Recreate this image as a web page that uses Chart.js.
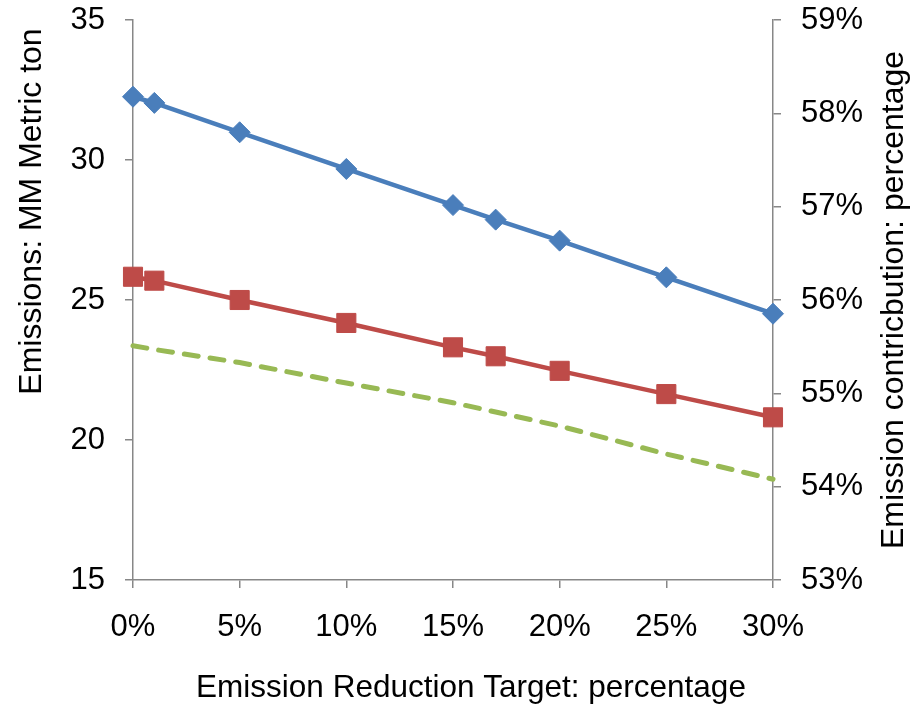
<!DOCTYPE html>
<html>
<head>
<meta charset="utf-8">
<script src="https://cdn.jsdelivr.net/npm/chart.js@4.4.1/dist/chart.umd.min.js"></script>
<style>
  html, body { margin: 0; padding: 0; background: #ffffff; }
  canvas { display: block; }
</style>
</head>
<body>
<canvas id="chart" width="914" height="717"></canvas>
<script>
// Emission reduction target (%) for each scenario run
const reductionTargets = [0, 1, 5, 10, 15, 17, 20, 25, 30];

// Emissions, MM metric ton (left axis)
const totalEmissions  = [32.26, 32.04, 30.99, 29.68, 28.39, 27.87, 27.12, 25.81, 24.51];
const sectorEmissions = [25.83, 25.69, 25.00, 24.18, 23.31, 22.99, 22.47, 21.64, 20.81];

// Emission contribution, % (right axis)
const contributionShare = [55.51, 55.47, 55.33, 55.11, 54.90, 54.80, 54.65, 54.35, 54.08];

// Axis ranges and tick steps: [min, max, step]
const xRange = [0, 30, 5];
const leftRange = [15, 35, 5];
const rightRange = [53, 59, 1];

const xTitle = 'Emission Reduction Target: percentage';
const leftTitle = 'Emissions: MM Metric ton';
const rightTitle = 'Emission contricbution: percentage';

const FONT_FAMILY = '"Liberation Sans", Arial, Helvetica, sans-serif';
const AXIS_GREY = '#878787';

const toPoints = (ys) => reductionTargets.map((x, i) => ({ x: x, y: ys[i] }));
const pct = (v) => v + '%';

// Axis titles: the two value-axis titles both read bottom to top
const axisTitles = {
  id: 'axisTitles',
  afterDraw(chart) {
    const { ctx, chartArea } = chart;
    const h = chartArea.bottom - chartArea.top;
    const w = chartArea.right - chartArea.left;
    const draw = (text, x, y, size, angle) => {
      ctx.save();
      ctx.translate(x, y);
      ctx.rotate(angle);
      ctx.font = size + 'px ' + FONT_FAMILY;
      ctx.fillStyle = '#000000';
      ctx.textAlign = 'center';
      ctx.textBaseline = 'middle';
      ctx.fillText(text, 0, 0);
      ctx.restore();
    };
    draw(leftTitle, chart.scales.y.left + 32, chartArea.top + h * 0.342, 32, -Math.PI / 2);
    draw(rightTitle, chart.scales.y1.right - 20, chartArea.top + h * 0.5, 32, -Math.PI / 2);
    draw(xTitle, chartArea.left + w * 0.5 + 18, chart.scales.x.bottom - 29, 31.5, 0);
  }
};

const tickFont = { family: FONT_FAMILY, size: 31 };
const axisGrid = { display: true, drawOnChartArea: false, drawTicks: true, tickLength: 8, color: AXIS_GREY, lineWidth: 1.5 };
const axisBorder = { display: true, color: AXIS_GREY, width: 1.5 };

// Fixed axis box sizes so the plot area keeps its place
const fitVertical = (width) => (scale) => {
  scale.width = width;
  scale.paddingTop = 0;
  scale.paddingBottom = 0;
};

new Chart(document.getElementById('chart'), {
  type: 'line',
  data: {
    datasets: [
      {
        label: 'Total emissions',
        data: toPoints(totalEmissions),
        yAxisID: 'y',
        borderColor: '#4A7EBB',
        backgroundColor: '#4A7EBB',
        borderWidth: 4.5,
        pointStyle: 'rectRot',
        pointRadius: 10.5,
        pointBorderWidth: 1,
        tension: 0,
        clip: false
      },
      {
        label: 'Sector emissions',
        data: toPoints(sectorEmissions),
        yAxisID: 'y',
        borderColor: '#BE4B48',
        backgroundColor: '#BE4B48',
        borderWidth: 4.5,
        pointStyle: 'rect',
        pointRadius: 13.5,
        pointBorderWidth: 1,
        tension: 0,
        clip: false
      },
      {
        label: 'Emission contribution',
        data: toPoints(contributionShare),
        yAxisID: 'y1',
        borderColor: '#98B954',
        backgroundColor: '#98B954',
        borderWidth: 5,
        borderDash: [14, 12],
        borderCapStyle: 'round',
        pointRadius: 0,
        tension: 0,
        clip: false
      }
    ]
  },
  options: {
    responsive: false,
    animation: false,
    events: [],
    layout: { padding: { top: 20, left: 0, right: 0, bottom: 0 } },
    plugins: {
      legend: { display: false },
      tooltip: { enabled: false },
      title: { display: false }
    },
    scales: {
      x: {
        type: 'linear',
        position: 'bottom',
        min: xRange[0],
        max: xRange[1],
        grid: axisGrid,
        border: axisBorder,
        ticks: { stepSize: xRange[2], callback: pct, color: '#000000', font: tickFont, padding: 21, maxRotation: 0 },
        afterFit(scale) { scale.height = 137; }
      },
      y: {
        type: 'linear',
        position: 'left',
        min: leftRange[0],
        max: leftRange[1],
        grid: axisGrid,
        border: axisBorder,
        ticks: { stepSize: leftRange[2], color: '#000000', font: tickFont, padding: 20 },
        afterFit: fitVertical(133)
      },
      y1: {
        type: 'linear',
        position: 'right',
        min: rightRange[0],
        max: rightRange[1],
        grid: axisGrid,
        border: axisBorder,
        ticks: { stepSize: rightRange[2], callback: pct, color: '#000000', font: tickFont, padding: 20 },
        afterFit: fitVertical(141)
      }
    }
  },
  plugins: [axisTitles]
});
</script>
</body>
</html>
